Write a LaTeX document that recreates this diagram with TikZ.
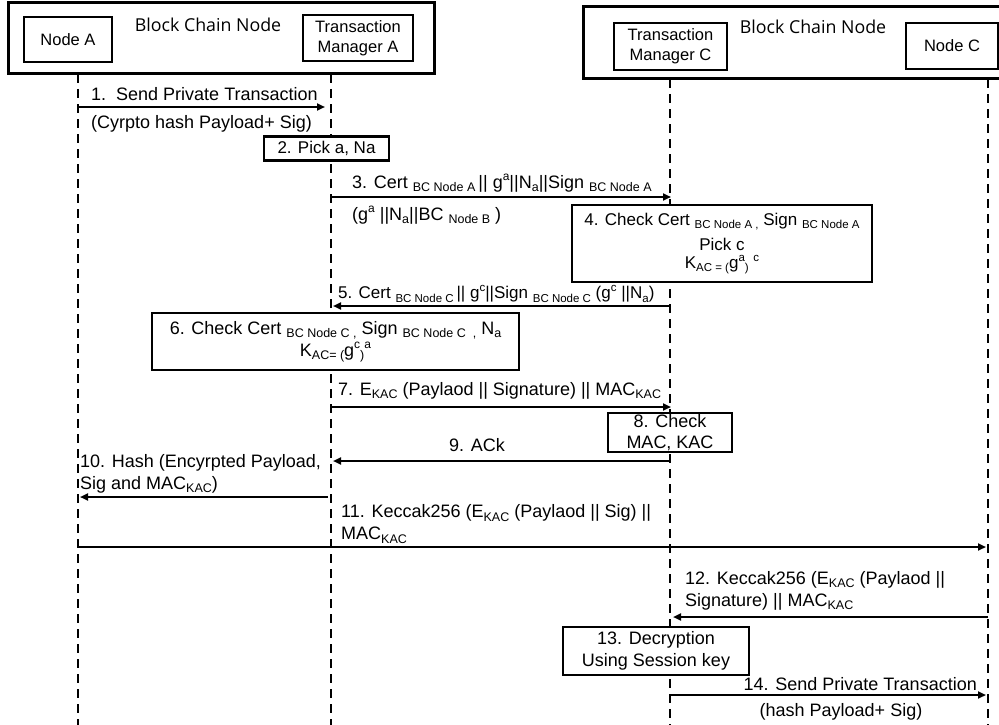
\documentclass[tikz,border=0pt]{standalone}
\usepackage{fontspec}
\setmainfont{Liberation Sans}
\newfontfamily\bctitlefont{Open Sans}
\usetikzlibrary{arrows.meta}
% small lowered / raised text for indices
\newcommand\lo[1]{\raisebox{-0.35ex}{\fontsize{12.5}{12.5}\selectfont #1}}
\newcommand\hi[1]{\raisebox{0.8ex}{\fontsize{12}{12}\selectfont #1}}
\newcommand\slo[1]{\raisebox{-0.35ex}{\fontsize{11.5}{11.5}\selectfont #1}}
\newcommand\shi[1]{\raisebox{0.8ex}{\fontsize{11.5}{11.5}\selectfont #1}}
\begin{document}
\begin{tikzpicture}[x=1pt,y=-1pt,
  outerbox/.style={draw, line width=3pt, inner sep=0pt},
  actor/.style={draw, line width=2.5pt, inner sep=0pt, align=center,
    font=\fontsize{16.5}{20}\selectfont},
  stepbox/.style={draw, fill=white, line width=2.5pt, inner sep=0pt, align=center,
    font=\fontsize{18}{22}\selectfont},
  lbl/.style={inner sep=0pt, font=\fontsize{18}{22}\selectfont},
  bctitle/.style={inner sep=0pt, font=\bctitlefont\fontsize{17.8}{20}\selectfont},
  lifeline/.style={line width=2pt, dash pattern=on 9pt off 6pt},
  msg/.style={line width=2pt, -{Triangle[length=8pt,width=7pt]}},
]
\useasboundingbox (0,0) rectangle (999,725);
\clip (0,0) rectangle (999,725);

% ---- lifelines (drawn first, step boxes cover them) ----
\coordinate (aTop) at (78,74);   \coordinate (aBot) at (78,725);
\coordinate (tTop) at (331,74);  \coordinate (tBot) at (331,725);
\coordinate (cTop) at (670,79);  \coordinate (cBot) at (670,725);
\coordinate (dTop) at (988,79);  \coordinate (dBot) at (988,725);
\draw[lifeline] (aTop) -- (aBot);
\draw[lifeline] (tTop) -- (tBot);
\draw[lifeline] (cTop) -- (cBot);
\draw[lifeline] (dTop) -- (dBot);

% ---- block chain nodes and participants ----
\node[outerbox, minimum width=426pt, minimum height=71pt] (bcA) at (221,38.5) {};
\node[bctitle] (bcAt) at (208,25) {Block Chain Node};
\node[actor, minimum width=88pt, minimum height=45pt] (nA) at (68,39.5) {Node A};
\node[actor, minimum width=110pt, minimum height=46pt] (tmA) at (358,38) {Transaction\\Manager A};

\node[outerbox, minimum width=430pt, minimum height=72pt] (bcC) at (798,43) {};
\node[bctitle] (bcCt) at (813,27) {Block Chain Node};
\node[actor, minimum width=113pt, minimum height=47pt] (tmC) at (670.5,46.5) {Transaction\\Manager C};
\node[actor, minimum width=92pt, minimum height=46pt] (nC) at (952,46) {Node C};

% ---- 1 ----
\coordinate (m1s) at (78,107); \coordinate (m1e) at (325,107);
\draw[msg] (m1s) -- (m1e);
\node[lbl, anchor=west] (l1) at (91,94) {1.\ \ Send Private Transaction};
\node[lbl, anchor=west] (l1b) at (91,124) {(Cyrpto hash Payload+ Sig)};

% ---- 2 ----
\node[stepbox, minimum width=125pt, minimum height=24pt, font=\fontsize{17}{20}\selectfont]
  (s2) at (326.5,148.5) {2. Pick a, Na};

% ---- 3 ----
\coordinate (m3s) at (331,197); \coordinate (m3e) at (671,197);
\draw[msg] (m3s) -- (m3e);
\node[lbl, anchor=west] (l3) at (352,183)
  {3. Cert \lo{BC Node A}\,|| g\hi{a}||N\lo{a}||Sign \lo{BC Node A}};
\node[lbl, anchor=west] (l3b) at (352,215) {(g\hi{a} ||N\lo{a}||BC \lo{Node B} )};

% ---- 4 ----
\node[stepbox, minimum width=300pt, minimum height=77pt, font=\fontsize{17}{21}\selectfont]
  (s4) at (722,243.5)
  {4. Check Cert \slo{BC Node A ,} Sign \slo{BC Node A}\\[4pt]
   Pick c\\[-3pt]
   K\slo{AC = (}g\shi{a}\slo{)} \shi{c}};

% ---- 5 ----
\coordinate (m5s) at (670,306); \coordinate (m5e) at (333,306);
\draw[msg] (m5s) -- (m5e);
\node[lbl, anchor=west, font=\fontsize{17}{21}\selectfont] (l5) at (338,294)
  {5. Cert \slo{BC Node C}\,|| g\shi{c}||Sign \slo{BC Node C} (g\shi{c} ||N\slo{a})};

% ---- 6 ----
\node[stepbox, minimum width=367pt, minimum height=57pt] (s6) at (335.5,341.5)
  {6. Check Cert \lo{BC Node C ,} Sign \lo{BC Node C\ \ ,} N\lo{a}\\
   K\lo{AC= (}g\hi{c}\lo{)}\hi{a}};

% ---- 7 ----
\coordinate (m7s) at (331,407); \coordinate (m7e) at (671,407);
\draw[msg] (m7s) -- (m7e);
\node[lbl, anchor=west] (l7) at (338,391)
  {7. E\lo{KAC} (Paylaod || Signature) || MAC\lo{KAC}};

% ---- 8 ----
\node[stepbox, minimum width=124pt, minimum height=39pt, font=\fontsize{18}{21}\selectfont]
  (s8) at (670,432.5) {8. Check\\MAC, KAC};

% ---- 9 ----
\coordinate (m9s) at (670,461); \coordinate (m9e) at (333,461);
\draw[msg] (m9s) -- (m9e);
\node[lbl] (l9) at (477,445) {9. ACk};

% ---- 10 ----
\coordinate (m10s) at (328,497); \coordinate (m10e) at (80,497);
\draw[msg] (m10s) -- (m10e);
\node[lbl, anchor=west, align=left] (l10) at (80,474)
  {10. Hash (Encyrpted Payload,\\Sig and MAC\lo{KAC})};

% ---- 11 ----
\coordinate (m11s) at (78,547); \coordinate (m11e) at (986,547);
\draw[msg] (m11s) -- (m11e);
\node[lbl, anchor=west, align=left] (l11) at (341,524)
  {11. Keccak256 (E\lo{KAC} (Paylaod || Sig) ||\\MAC\lo{KAC}};

% ---- 12 ----
\coordinate (m12s) at (988,617); \coordinate (m12e) at (673,617);
\draw[msg] (m12s) -- (m12e);
\node[lbl, anchor=west, align=left] (l12) at (685,591)
  {12. Keccak256 (E\lo{KAC} (Paylaod ||\\Signature) || MAC\lo{KAC}};

% ---- 13 ----
\node[stepbox, minimum width=186pt, minimum height=48pt] (s13) at (656,651)
  {13. Decryption\\Using Session key};

% ---- 14 ----
\coordinate (m14s) at (670,695); \coordinate (m14e) at (986,695);
\draw[msg] (m14s) -- (m14e);
\node[lbl, anchor=east] (l14) at (977,684) {14. Send Private Transaction};
\node[lbl] (l14b) at (841,712) {(hash Payload+ Sig)};
\end{tikzpicture}
\end{document}
